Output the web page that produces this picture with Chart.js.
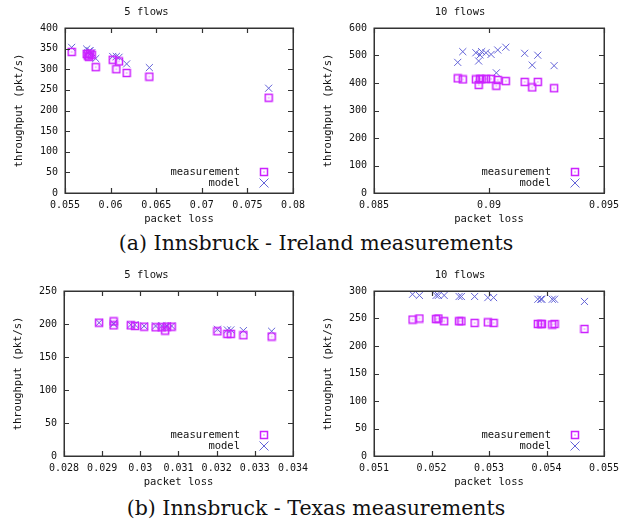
<!DOCTYPE html>
<html>
<head>
<meta charset="utf-8">
<script src="https://cdn.jsdelivr.net/npm/chart.js@4.4.1/dist/chart.umd.min.js"></script>
<style>
  body { margin: 0; background: #fff; }
  #page { position: relative; width: 632px; height: 520px; overflow: hidden; }
  #page canvas { position: absolute; }
  .cap { position: absolute; left: 0; width: 632px; text-align: center;
         font-family: "DejaVu Serif", serif; font-size: 20.5px; line-height: 24px; color: #111; }
</style>
</head>
<body>
<div id="page">
  <canvas id="c1" width="316" height="230" style="left:0;top:0"></canvas>
  <canvas id="c2" width="316" height="230" style="left:316px;top:0"></canvas>
  <div class="cap" style="top:231px">(a) Innsbruck - Ireland measurements</div>
  <canvas id="c3" width="316" height="230" style="left:0;top:263px"></canvas>
  <canvas id="c4" width="316" height="230" style="left:316px;top:263px"></canvas>
  <div class="cap" style="top:496px">(b) Innsbruck - Texas measurements</div>
</div>
<script>
// Innsbruck - Ireland, 5 flows
var ie5Loss = [0.05573, 0.05738, 0.05750, 0.05763, 0.05775, 0.05793, 0.05837, 0.06023, 0.06063, 0.06092, 0.06176, 0.06425, 0.07733];
var ie5Measured = [342, 337, 333, 330, 338, 335, 305, 323, 300, 319, 291, 282, 231];
var ie5Model = [353, 349, 340, 344, 345, 340, 326, 331, 331, 329, 313, 304, 254];

// Innsbruck - Ireland, 10 flows
var ie10Loss = [0.08864, 0.08886, 0.08943, 0.08955, 0.08961, 0.08968, 0.08987, 0.09009, 0.09032, 0.09038, 0.09073, 0.09155, 0.09188, 0.09212, 0.09283];
var ie10Measured = [417, 413, 413, 393, 415, 414, 415, 415, 390, 411, 407, 404, 384, 404, 381];
var ie10Model = [475, 514, 510, 480, 502, 514, 510, 504, 437, 520, 530, 508, 465, 501, 463];

// Innsbruck - Texas, 5 flows
var tx5Loss = [0.02892, 0.02930, 0.02930, 0.02975, 0.02986, 0.03010, 0.03040, 0.03056, 0.03065, 0.03070, 0.03082, 0.03202, 0.03228, 0.03237, 0.03270, 0.03344];
var tx5Measured = [202, 204, 198, 198, 197, 196, 195, 195, 190, 196, 196, 189, 185, 185, 183, 181];
var tx5Model = [202, 201, 200, 199, 199, 197, 197, 197, 196, 197, 197, 192, 191, 191, 190, 189];

// Innsbruck - Texas, 10 flows
var tx10Loss = [0.05167, 0.05179, 0.05208, 0.05212, 0.05222, 0.05248, 0.05252, 0.05275, 0.05298, 0.05308, 0.05385, 0.05390, 0.05392, 0.05410, 0.05414, 0.05466];
var tx10Measured = [248, 250, 249, 250, 245, 245, 245, 242, 243, 242, 240, 240, 240, 239, 240, 231];
var tx10Model = [294, 292, 292, 292, 292, 290, 290, 290, 288, 288, 285, 285, 285, 285, 285, 281];

var seriesNames = ["measurement", "model"];
var measColor = "#cc22ff";
var modelColor = "#6464d8";
var frameColor = "#333333";
var monoFont = "'DejaVu Sans Mono', monospace";

// square with a dot in the middle, like gnuplot's box point
var boxPoint = document.createElement("canvas");
boxPoint.width = 10;
boxPoint.height = 10;
(function () {
  var g = boxPoint.getContext("2d");
  g.strokeStyle = measColor;
  g.lineWidth = 1.5;
  g.strokeRect(1.5, 1.5, 7, 7);
  g.fillStyle = measColor;
  g.fillRect(4.5, 4.5, 1, 1);
})();

function toPoints(xs, ys) {
  return xs.map(function (x, i) { return { x: x, y: ys[i] }; });
}

// border, inward ticks on all four sides and the gnuplot-style key
var framePlugin = {
  id: "frame",
  afterDatasetsDraw: function (chart) {
    var ctx = chart.ctx;
    var a = chart.chartArea;
    var xs = chart.scales.x, ys = chart.scales.y;
    ctx.save();
    ctx.strokeStyle = frameColor;
    ctx.lineWidth = 1.5;
    ctx.strokeRect(Math.round(a.left) + 0.25, Math.round(a.top) + 0.25,
      Math.round(a.right - a.left), Math.round(a.bottom - a.top));
    ctx.lineWidth = 1.2;
    ctx.beginPath();
    xs.ticks.forEach(function (tk) {
      var px = Math.round(xs.getPixelForValue(tk.value)) + 0.5;
      ctx.moveTo(px, a.bottom); ctx.lineTo(px, a.bottom - 5);
      ctx.moveTo(px, a.top); ctx.lineTo(px, a.top + 5);
    });
    ys.ticks.forEach(function (tk) {
      var py = Math.round(ys.getPixelForValue(tk.value)) + 0.5;
      ctx.moveTo(a.left, py); ctx.lineTo(a.left + 5, py);
      ctx.moveTo(a.right, py); ctx.lineTo(a.right - 5, py);
    });
    ctx.stroke();

    // key
    ctx.font = "10.5px " + monoFont;
    ctx.fillStyle = "#111";
    ctx.textAlign = "right";
    ctx.textBaseline = "middle";
    var ty1 = a.bottom - 21, ty2 = a.bottom - 10;
    ctx.fillText(seriesNames[0], a.right - 53, ty1);
    ctx.fillText(seriesNames[1], a.right - 53, ty2);
    var sx = a.right - 29;
    ctx.drawImage(boxPoint, sx - 5, ty1 - 5);
    ctx.lineWidth = 1;
    ctx.strokeStyle = modelColor;
    ctx.beginPath();
    ctx.moveTo(sx - 4.5, ty2 - 4.5); ctx.lineTo(sx + 4.5, ty2 + 4.5);
    ctx.moveTo(sx + 4.5, ty2 - 4.5); ctx.lineTo(sx - 4.5, ty2 + 4.5);
    ctx.stroke();
    ctx.restore();
  }
};

function lossLabel(v) {
  return parseFloat(v.toFixed(4)).toString();
}

function makeChart(id, title, loss, measured, model, xMin, xMax, xStep, yMax, yStep, yWidth, padRight, yTitlePad) {
  var ctx = document.getElementById(id).getContext("2d");
  return new Chart(ctx, {
    type: "scatter",
    data: {
      datasets: [
        {
          label: seriesNames[0],
          data: toPoints(loss, measured),
          pointStyle: boxPoint,
          pointRadius: 5,
          borderColor: measColor,
          backgroundColor: measColor
        },
        {
          label: seriesNames[1],
          data: toPoints(loss, model),
          pointStyle: "crossRot",
          pointRadius: 5,
          borderWidth: 1,
          borderColor: modelColor,
          backgroundColor: modelColor
        }
      ]
    },
    options: {
      responsive: false,
      animation: false,
      events: [],
      layout: { padding: { left: 0, right: padRight, top: 0, bottom: 0 } },
      plugins: {
        legend: { display: false },
        tooltip: { enabled: false },
        title: {
          display: true,
          text: title,
          color: "#111",
          font: { family: monoFont, size: 10.5, weight: "normal" },
          padding: { top: 6, bottom: 9.4 }
        }
      },
      scales: {
        x: {
          type: "linear",
          min: xMin,
          max: xMax,
          grid: { display: false, drawTicks: false },
          border: { display: false },
          ticks: {
            stepSize: xStep,
            padding: 6,
            color: "#111",
            maxRotation: 0,
            autoSkip: false,
            font: { family: monoFont, size: 10 },
            callback: lossLabel
          },
          title: {
            display: true,
            text: "packet loss",
            color: "#111",
            font: { family: monoFont, size: 10.5 },
            padding: { top: 0, bottom: 4 }
          },
          afterFit: function (s) {
            s.height = 37;
            s.paddingLeft = 0;
            s.paddingRight = 0;
          }
        },
        y: {
          min: 0,
          max: yMax,
          grid: { display: false, drawTicks: false },
          border: { display: false },
          ticks: {
            stepSize: yStep,
            padding: 7,
            color: "#111",
            font: { family: monoFont, size: 10 }
          },
          title: {
            display: true,
            text: "throughput (pkt/s)",
            color: "#111",
            font: { family: monoFont, size: 10.5 },
            padding: { top: yTitlePad, bottom: 0 }
          },
          afterFit: function (s) {
            s.width = yWidth;
            s.paddingTop = 0;
            s.paddingBottom = 0;
          }
        }
      }
    },
    plugins: [framePlugin]
  });
}

makeChart("c1", "5 flows", ie5Loss, ie5Measured, ie5Model, 0.055, 0.08, 0.005, 400, 50, 65, 23, 13);
makeChart("c2", "10 flows", ie10Loss, ie10Measured, ie10Model, 0.085, 0.095, 0.005, 600, 100, 58, 28, 6);
makeChart("c3", "5 flows", tx5Loss, tx5Measured, tx5Model, 0.028, 0.034, 0.001, 250, 50, 64, 23, 12);
makeChart("c4", "10 flows", tx10Loss, tx10Measured, tx10Model, 0.051, 0.055, 0.001, 300, 50, 58, 28, 6);
</script>
</body>
</html>
